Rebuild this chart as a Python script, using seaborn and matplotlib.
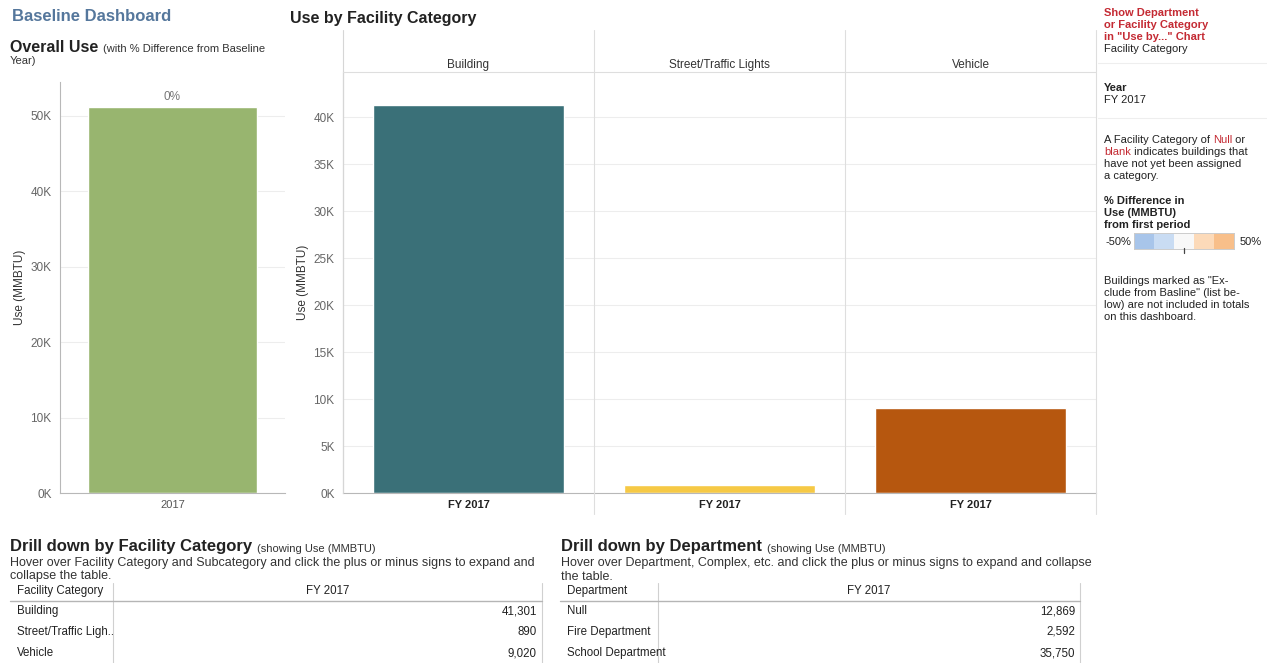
import matplotlib
matplotlib.use("Agg")
import matplotlib.pyplot as plt
import seaborn as sns
import pandas as pd
from matplotlib.lines import Line2D
from matplotlib.colors import ListedColormap

# ---- data -------------------------------------------------------------
overall_years = ["2017"]
overall_use = [51211]
overall_pct_diff = ["0%"]

periods = ["FY 2017"]
categories = ["Building", "Street/Traffic Lights", "Vehicle"]
category_use = [41301, 890, 9020]

table_categories = ["Building", "Street/Traffic Ligh..", "Vehicle"]
table_category_values = ["41,301", "890", "9,020"]
departments = ["Null", "Fire Department", "School Department"]
department_values = ["12,869", "2,592", "35,750"]

overall_ticks = [0, 10000, 20000, 30000, 40000, 50000]
overall_tick_labels = ["0K", "10K", "20K", "30K", "40K", "50K"]
category_ticks = [0, 5000, 10000, 15000, 20000, 25000, 30000, 35000, 40000]
category_tick_labels = ["0K", "5K", "10K", "15K", "20K", "25K", "30K", "35K", "40K"]

# ---- styling ----------------------------------------------------------
overall_color = "#98b56f"
category_colors = ["#3a7078", "#f6c945", "#b6570f"]
legend_colors = ["#a8c5ea", "#c9dcf3", "#f8f8f8", "#fcdab9", "#f8bf8a"]
red = "#c42a33"
dark = "#222222"
grey = "#666666"
axis_grey = "#b8b8b8"
grid_grey = "#ededed"

sns.set_style("white")
plt.rcParams["font.family"] = ["Liberation Sans", "DejaVu Sans"]

W, H = 1267, 663
fig = plt.figure(figsize=(W / 100, H / 100), dpi=100)
fig.patch.set_facecolor("white")
renderer = fig.canvas.get_renderer()


def fx(x):
    return x / W


def fy(y):
    return 1 - y / H


def add_ax(x0, y0, x1, y1):
    return fig.add_axes([fx(x0), fy(y1), (x1 - x0) / W, (y1 - y0) / H])


def hline(x0, x1, y, color, lw=0.8):
    fig.add_artist(Line2D([fx(x0), fx(x1)], [fy(y), fy(y)], color=color, lw=lw))


def vline(x, y0, y1, color, lw=0.8):
    fig.add_artist(Line2D([fx(x), fx(x)], [fy(y0), fy(y1)], color=color, lw=lw))


def seq_text(x, y, pieces):
    """Draw consecutive text runs on one baseline, each with its own style."""
    for s, kw in pieces:
        t = fig.text(fx(x), fy(y), s, va="baseline", ha="left", **kw)
        x += t.get_window_extent(renderer=renderer).width


def style_axis(ax):
    for side in ("top", "right"):
        ax.spines[side].set_visible(False)
    for side in ("left", "bottom"):
        ax.spines[side].set_color(axis_grey)
        ax.spines[side].set_linewidth(0.8)
    ax.set_axisbelow(True)
    ax.yaxis.grid(True, color=grid_grey, lw=0.8)
    ax.xaxis.grid(False)
    ax.tick_params(axis="y", length=4, width=0.7, color=axis_grey,
                   labelsize=8.5, labelcolor=grey, pad=2)
    ax.tick_params(axis="x", length=0, pad=5)
    ax.set_xlabel("")


# ---- titles -----------------------------------------------------------
seq_text(12, 21, [("Baseline Dashboard", dict(size=12, weight="bold", color="#55779c"))])
seq_text(290, 22.5, [("Use by Facility Category", dict(size=11.5, weight="bold", color=dark))])
seq_text(10, 52.5, [("Overall Use ", dict(size=11.5, weight="bold", color=dark)),
                    ("(with % Difference from Baseline", dict(size=8, color="#333333"))])
seq_text(10, 64, [("Year)", dict(size=8, color="#333333"))])

# ---- overall use chart ------------------------------------------------
ax0 = add_ax(60, 82, 285, 493)
df_overall = pd.DataFrame({"Year": overall_years, "Use": overall_use})
sns.barplot(data=df_overall, x="Year", y="Use", color=overall_color,
            saturation=1, width=0.75, ax=ax0)
style_axis(ax0)
ax0.set_xlim(-0.5, 0.5)
ax0.set_ylim(0, 54500)
ax0.set_yticks(overall_ticks, overall_tick_labels)
ax0.tick_params(axis="x", labelsize=8, labelcolor="#555555")
ax0.set_ylabel("Use (MMBTU)", size=8.5, color="#333333")
ax0.yaxis.set_label_coords((26 - 60) / 225, 0.5)
ax0.bar_label(ax0.containers[0], labels=overall_pct_diff, padding=3,
              color="#777777", size=8.5)

# ---- use by facility category (faceted) -------------------------------
panel_w = 251
left0 = 343
for i, (cat, val, col) in enumerate(zip(categories, category_use, category_colors)):
    x0 = left0 + i * panel_w
    ax = add_ax(x0, 72, x0 + panel_w, 493)
    df_cat = pd.DataFrame({"Period": periods, "Use": [val]})
    sns.barplot(data=df_cat, x="Period", y="Use", color=col,
                saturation=1, width=0.76, ax=ax)
    style_axis(ax)
    ax.set_xlim(-0.5, 0.5)
    ax.set_ylim(0, 44800)
    ax.set_yticks(category_ticks, category_tick_labels)
    ax.tick_params(axis="x", labelsize=8, labelcolor=dark)
    for lab in ax.get_xticklabels():
        lab.set_fontweight("bold")
    if i == 0:
        ax.set_ylabel("Use (MMBTU)", size=8.5, color="#333333")
        ax.yaxis.set_label_coords((309 - 343) / panel_w, 0.5)
    else:
        ax.set_ylabel("")
        ax.spines["left"].set_visible(False)
        ax.tick_params(axis="y", length=0, labelleft=False)
    fig.text(fx(x0 + panel_w / 2), fy(65), cat, ha="center", va="center",
             size=8.5, color="#333333")

# facet dividers and header rule
vline(left0, 30, 493, "#d6d6d6")
for i in range(1, 4):
    vline(left0 + i * panel_w, 30, 514, "#dedede")
hline(left0, left0 + 3 * panel_w, 72, "#dedede")

# ---- right-hand controls / notes --------------------------------------
rx = 1104
fs = 8
small = dict(size=fs, color=dark)
red_kw = dict(size=fs, color=red, weight="bold")
bold_small = dict(size=fs, color=dark, weight="bold")
seq_text(rx, 16, [("Show Department", red_kw)])
seq_text(rx, 28, [("or Facility Category", red_kw)])
seq_text(rx, 40, [("in \"Use by...\" Chart", red_kw)])
seq_text(rx, 52, [("Facility Category", small)])
hline(1098, 1267, 63, "#eeeeee")
seq_text(rx, 91, [("Year", bold_small)])
seq_text(rx, 103, [("FY 2017", small)])
hline(1098, 1267, 118, "#eeeeee")
seq_text(rx, 143, [("A Facility Category of ", small), ("Null", dict(size=fs, color=red)),
                   (" or", small)])
seq_text(rx, 155, [("blank", dict(size=fs, color=red)), (" indicates buildings that", small)])
seq_text(rx, 167, [("have not yet been assigned", small)])
seq_text(rx, 179, [("a category.", small)])
seq_text(rx, 204, [("% Difference in", bold_small)])
seq_text(rx, 216, [("Use (MMBTU)", bold_small)])
seq_text(rx, 228, [("from first period", bold_small)])
seq_text(rx + 1, 245, [("-50%", small)])
seq_text(1240, 245, [("50%", small)])

ax_leg = add_ax(1134, 233, 1234, 249)
ax_leg.imshow([[0, 1, 2, 3, 4]], cmap=ListedColormap(legend_colors),
              aspect="auto", vmin=0, vmax=4)
ax_leg.set_xticks([])
ax_leg.set_yticks([])
for sp in ax_leg.spines.values():
    sp.set_color("#cccccc")
    sp.set_linewidth(0.7)
vline(1184, 248, 253, "#444444", lw=0.9)

seq_text(rx, 284, [("Buildings marked as \"Ex-", small)])
seq_text(rx, 296, [("clude from Basline\" (list be-", small)])
seq_text(rx, 308, [("low) are not included in totals", small)])
seq_text(rx, 320, [("on this dashboard.", small)])

# ---- drill-down tables ------------------------------------------------
body = dict(size=9, color="#333333")
head = dict(size=12, weight="bold", color=dark)
sub = dict(size=8, color="#333333")
seq_text(10, 551.5, [("Drill down by Facility Category ", head),
                     ("(showing Use (MMBTU)", sub)])
seq_text(10, 566, [("Hover over Facility Category and Subcategory and click the plus or minus "
                    "signs to expand and", body)])
seq_text(10, 579.5, [("collapse the table.", body)])

seq_text(561, 551.5, [("Drill down by Department ", head),
                      ("(showing Use (MMBTU)", sub)])
seq_text(561, 566, [("Hover over Department, Complex, etc. and click the plus or minus signs "
                     "to expand and collapse", body)])
seq_text(561, 579.5, [("the table.", body)])

row_y = [611, 632, 653]
cell = dict(size=8.3, color=dark, va="center")


def draw_table(x_left, x_div, x_right, header, labels, values):
    vline(x_div, 583, 663, "#d0d0d0")
    vline(x_right, 583, 663, "#d0d0d0")
    hline(x_left, x_right, 601, "#b5b5b5", lw=1.0)
    fig.text(fx(x_left + 7), fy(591), header, ha="left", **cell)
    fig.text(fx((x_div + x_right) / 2), fy(591), periods[0], ha="center", **cell)
    for y, lab, val in zip(row_y, labels, values):
        fig.text(fx(x_left + 7), fy(y), lab, ha="left", **cell)
        fig.text(fx(x_right - 5), fy(y), val, ha="right", **cell)


draw_table(10, 113, 542, "Facility Category", table_categories, table_category_values)
draw_table(560, 658, 1080, "Department", departments, department_values)

fig.savefig("out.png", dpi=100, facecolor="white")
